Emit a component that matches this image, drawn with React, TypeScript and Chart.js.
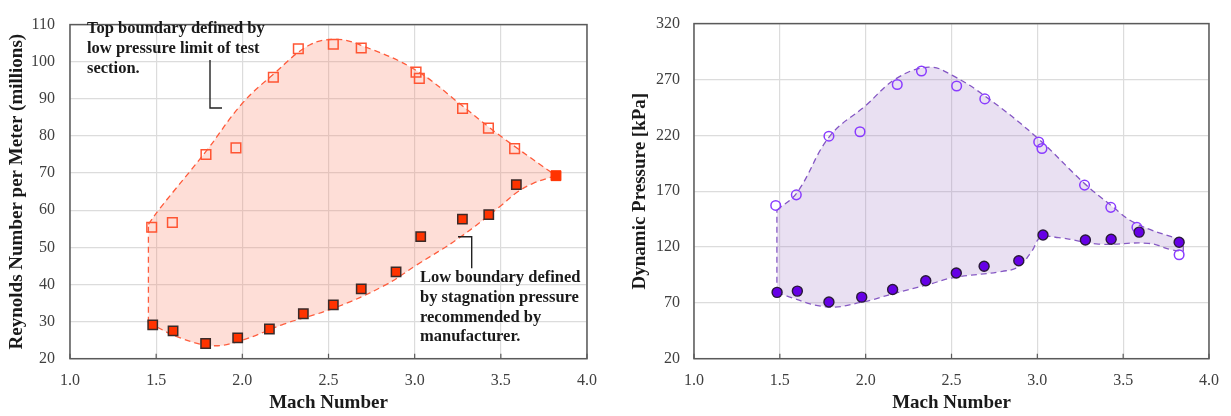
import React, { useEffect, useRef } from 'react';
import { Chart, registerables } from 'chart.js';

Chart.register(...registerables);

const FONT = "'Liberation Serif', 'Times New Roman', serif";

// ---------- Left chart: Reynolds number per meter (millions) ----------
const reOpenMach = [1.474, 1.594, 1.789, 1.963, 2.18, 2.325, 2.528, 2.69, 3.008, 3.027, 3.278, 3.428, 3.58];
const reOpenValue = [55.4, 56.7, 75.0, 76.8, 95.8, 103.5, 104.7, 103.7, 97.2, 95.5, 87.4, 82.1, 76.6];
const reFilledMach = [1.48, 1.598, 1.787, 1.973, 2.157, 2.354, 2.528, 2.69, 2.892, 3.035, 3.277, 3.43, 3.59];
const reFilledValue = [29.1, 27.5, 24.1, 25.6, 28.0, 32.1, 34.5, 38.8, 43.4, 52.9, 57.6, 58.8, 66.9];
const reEndMach = [3.82];
const reEndValue = [69.3];
const reUpperMach = [1.455, 1.52, 1.79, 2.0, 2.18, 2.39, 2.55, 2.69, 3.0, 3.28, 3.43, 3.58, 3.82];
const reUpperValue = [56.2, 60.4, 75.9, 88.8, 96.6, 104.5, 106.0, 104.4, 97.9, 88.0, 82.4, 77.2, 69.3];
const reLowerMach = [1.455, 1.64, 1.83, 2.0, 2.24, 2.53, 2.82, 3.01, 3.26, 3.5, 3.59, 3.69, 3.82];
const reLowerValue = [29.7, 25.6, 23.5, 25.0, 29.3, 33.6, 39.6, 45.2, 52.6, 61.2, 64.7, 67.3, 69.3];
const reEdgeMach = [1.455, 1.455];
const reEdgeValue = [29.7, 56.2];

// ---------- Right chart: dynamic pressure [kPa] ----------
const qOpenMach = [1.476, 1.596, 1.786, 1.967, 2.184, 2.325, 2.53, 2.694, 3.008, 3.027, 3.275, 3.428, 3.58, 3.826];
const qOpenValue = [157.2, 166.7, 219.2, 223.2, 265.5, 277.6, 264.1, 252.6, 214.0, 208.2, 175.4, 155.5, 137.6, 113.1];
const qFilledMach = [1.484, 1.602, 1.786, 1.977, 2.157, 2.35, 2.528, 2.69, 2.892, 3.033, 3.28, 3.43, 3.593, 3.826];
const qFilledValue = [79.4, 80.5, 70.7, 75.1, 82.0, 89.8, 96.7, 102.7, 107.7, 130.7, 126.3, 126.9, 133.3, 124.3];
const qUpperMach = [1.483, 1.6, 1.79, 2.0, 2.18, 2.37, 2.5, 2.7, 3.0, 3.27, 3.43, 3.57, 3.85];
const qUpperValue = [153, 168.7, 219, 246.6, 271, 281, 274, 254.6, 217.7, 177.5, 157.2, 141.4, 125.5];
const qLowerMach = [1.483, 1.77, 1.98, 2.157, 2.37, 2.505, 2.795, 2.892, 2.97, 3.018, 3.125, 3.357, 3.646, 3.78, 3.85];
const qLowerValue = [79, 66.4, 70.7, 78, 86.6, 92.4, 98.2, 102.5, 116.8, 128.4, 128.4, 122.6, 123.3, 117.5, 116];
const qLeftEdgeMach = [1.483, 1.483];
const qLeftEdgeValue = [79, 153];
const qRightEdgeMach = [3.85, 3.85];
const qRightEdgeValue = [116, 125.5];

const xTicksMin = 1;
const xTicksMax = 4;
const xTickStep = 0.5;

const annotationTop = ['Top boundary defined by', 'low pressure limit of test', 'section.'];
const annotationLow = ['Low boundary defined', 'by stagnation pressure', 'recommended by', 'manufacturer.'];

function pts(xs: number[], ys: number[]) {
  return xs.map((x, i) => ({ x, y: ys[i] }));
}

const framePlugin = {
  id: 'frame',
  afterDatasetsDraw(chart: any) {
    const { ctx, chartArea } = chart;
    const { left, right, top, bottom } = chartArea;
    ctx.save();
    ctx.strokeStyle = '#5a5a5a';
    ctx.lineWidth = 1.5;
    ctx.strokeRect(left, top, right - left, bottom - top);
    const xs = chart.scales.x;
    ctx.lineWidth = 1.2;
    xs.ticks.forEach((t: any) => {
      const px = xs.getPixelForValue(t.value);
      ctx.beginPath();
      ctx.moveTo(px, bottom);
      ctx.lineTo(px, bottom - 5);
      ctx.stroke();
    });
    ctx.restore();
  },
};

const annotationPlugin = {
  id: 'notes',
  afterDraw(chart: any) {
    const { ctx } = chart;
    ctx.save();
    ctx.font = `bold 16.5px ${FONT}`;
    ctx.fillStyle = '#1a1a1a';
    ctx.textBaseline = 'alphabetic';
    ctx.textAlign = 'left';
    annotationTop.forEach((s, i) => ctx.fillText(s, 87, 33.3 + i * 19.7));
    annotationLow.forEach((s, i) => ctx.fillText(s, 420, 282.3 + i * 19.6));
    ctx.strokeStyle = '#222';
    ctx.lineWidth = 1.4;
    ctx.beginPath();
    ctx.moveTo(210, 60);
    ctx.lineTo(210, 108);
    ctx.lineTo(222, 108);
    ctx.stroke();
    ctx.beginPath();
    ctx.moveTo(458, 236.7);
    ctx.lineTo(471.7, 236.7);
    ctx.lineTo(471.7, 268.3);
    ctx.stroke();
    ctx.restore();
  },
};

function makeOptions(p: {
  yMin: number; yMax: number; yStep: number; yTitle: string; yWidth: number;
  yTitlePad: number; yTickPad: number; padRight: number;
}) {
  return {
    responsive: false,
    animation: false,
    events: [],
    layout: { padding: { left: 0, right: p.padRight, top: 12, bottom: 0 } },
    plugins: { legend: { display: false }, tooltip: { enabled: false } },
    scales: {
      x: {
        type: 'linear',
        min: xTicksMin,
        max: xTicksMax,
        ticks: {
          stepSize: xTickStep,
          padding: 12,
          color: '#404040',
          font: { family: FONT, size: 16 },
          maxRotation: 0,
          autoSkip: false,
          callback: (v: any) => Number(v).toFixed(1),
        },
        grid: { color: '#dcdcdc', lineWidth: 1.2, drawTicks: false },
        border: { display: false },
        title: {
          display: true,
          text: 'Mach Number',
          color: '#1a1a1a',
          font: { family: FONT, size: 19, weight: 'bold' },
          padding: { top: 0, bottom: 1.6 },
        },
        afterFit: (s: any) => { s.height = 57.3; },
      },
      y: {
        type: 'linear',
        min: p.yMin,
        max: p.yMax,
        ticks: {
          stepSize: p.yStep,
          padding: p.yTickPad,
          color: '#404040',
          font: { family: FONT, size: 16 },
          autoSkip: false,
        },
        grid: { color: '#dcdcdc', lineWidth: 1.2, drawTicks: false },
        border: { display: false },
        title: {
          display: true,
          text: p.yTitle,
          color: '#1a1a1a',
          font: { family: FONT, size: 19, weight: 'bold' },
          padding: { top: p.yTitlePad, bottom: 0 },
        },
        afterFit: (s: any) => { s.width = p.yWidth; },
      },
    },
  };
}

function boundary(data: any[], color: string, fillTarget: number | false, fillColor: string) {
  return {
    data,
    showLine: true,
    borderColor: color,
    borderWidth: 1.3,
    borderDash: [6, 4],
    pointRadius: 0,
    tension: 0.4,
    fill: fillTarget === false ? false : fillTarget,
    backgroundColor: fillColor,
  };
}

function edge(data: any[], color: string) {
  return {
    data,
    showLine: true,
    borderColor: color,
    borderWidth: 1.3,
    borderDash: [6, 4],
    pointRadius: 0,
    tension: 0,
    fill: false,
  };
}

function leftConfig(): any {
  const line = '#ff5a3a';
  return {
    type: 'line',
    data: {
      datasets: [
        {
          data: pts(reFilledMach, reFilledValue), showLine: false, pointStyle: 'rect',
          pointRadius: 6.6, backgroundColor: '#ff3300', borderColor: '#3a2a28', borderWidth: 1.5,
        },
        {
          data: pts(reEndMach, reEndValue), showLine: false, pointStyle: 'rect',
          pointRadius: 7, backgroundColor: '#ff3300', borderColor: '#ff3300', borderWidth: 1,
        },
        {
          data: pts(reOpenMach, reOpenValue), showLine: false, pointStyle: 'rect',
          pointRadius: 6.8, backgroundColor: 'rgba(0,0,0,0)', borderColor: '#ff5533', borderWidth: 1.5,
        },
        boundary(pts(reUpperMach, reUpperValue), line, 4, 'rgba(250,125,95,0.25)'),
        boundary(pts(reLowerMach, reLowerValue), line, false, 'rgba(0,0,0,0)'),
        edge(pts(reEdgeMach, reEdgeValue), line),
      ],
    },
    options: makeOptions({
      yMin: 20, yMax: 110, yStep: 10, yTitle: 'Reynolds Number per Meter (millions)',
      yWidth: 70, yTitlePad: 5.3, yTickPad: 15, padRight: 28,
    }),
    plugins: [framePlugin, annotationPlugin],
  };
}

function rightConfig(): any {
  const line = '#8456c4';
  return {
    type: 'line',
    data: {
      datasets: [
        {
          data: pts(qFilledMach, qFilledValue), showLine: false, pointStyle: 'circle',
          pointRadius: 5, backgroundColor: '#6600e6', borderColor: '#2a1a3a', borderWidth: 1.4,
        },
        {
          data: pts(qOpenMach, qOpenValue), showLine: false, pointStyle: 'circle',
          pointRadius: 4.8, backgroundColor: 'rgba(0,0,0,0)', borderColor: '#8a3cff', borderWidth: 1.5,
        },
        boundary(pts(qUpperMach, qUpperValue), line, 3, 'rgba(165,125,200,0.24)'),
        boundary(pts(qLowerMach, qLowerValue), line, false, 'rgba(0,0,0,0)'),
        edge(pts(qLeftEdgeMach, qLeftEdgeValue), line),
        edge(pts(qRightEdgeMach, qRightEdgeValue), line),
      ],
    },
    options: makeOptions({
      yMin: 20, yMax: 320, yStep: 50, yTitle: 'Dynamic Pressure [kPa]',
      yWidth: 79, yTitlePad: 13.6, yTickPad: 14, padRight: 19.5,
    }),
    plugins: [framePlugin],
  };
}

function Panel({ left, width, build }: { left: number; width: number; build: () => any }) {
  const ref = useRef<HTMLCanvasElement | null>(null);
  useEffect(() => {
    if (!ref.current) return;
    const chart = new Chart(ref.current, build());
    return () => chart.destroy();
  }, [build]);
  return (
    <div style={{ position: 'absolute', left, top: 0, width, height: 416 }}>
      <canvas ref={ref} width={width} height={416} style={{ display: 'block' }} />
    </div>
  );
}

export default function App() {
  return (
    <div style={{ position: 'absolute', left: 0, top: 0, width: 1231, height: 416, background: '#fff' }}>
      <Panel left={0} width={615} build={leftConfig} />
      <Panel left={615} width={616} build={rightConfig} />
    </div>
  );
}
